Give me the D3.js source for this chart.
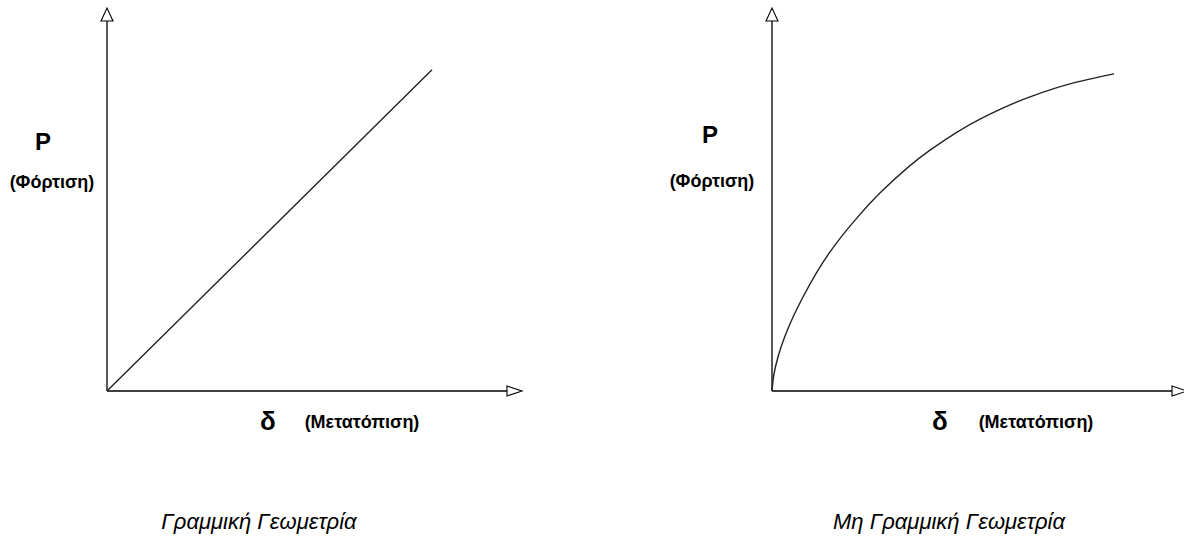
<!DOCTYPE html>
<html><head><meta charset="utf-8">
<script src="https://cdn.jsdelivr.net/npm/d3@7"></script>
<style>body{margin:0;background:#fff}svg{display:block}text{font-family:"Liberation Sans",Arial,sans-serif}</style>
</head><body><svg id="c" width="1184" height="537"></svg>
<script>
// Data (abstract units δ, P)
const linearDelta = [0, 8.125];
const linearLoad  = [0, 8.68];
const nonlinearDelta = [0, 0.05, 0.15, 0.375, 0.775, 1.45, 2.125, 2.775, 3.95, 5.2, 6.45, 7.45, 8.55];
const nonlinearLoad  = [0, 0.46, 0.92, 1.62, 2.54, 3.76, 4.68, 5.43, 6.51, 7.35, 7.95, 8.30, 8.57];
const titles = ["Γραμμική Γεωμετρία", "Μη Γραμμική Γεωμετρία"];
const yLabel = "P", yLabelSub = "(Φόρτιση)";
const xLabel = "δ", xLabelSub = "(Μετατόπιση)";

const svg = d3.select("#c");
const panels = [
  {ox:107, delta:linearDelta, load:linearLoad, curve:d3.curveLinear, title:titles[0], tx:259,
   px:43, py:150, psx:52, psy:188, dx:268, dsx:362},
  {ox:772, delta:nonlinearDelta, load:nonlinearLoad, curve:d3.curveMonotoneY, title:titles[1], tx:949,
   px:710, py:143, psx:712, psy:187, dx:940, dsx:1036}
];
const oy = 391;
panels.forEach(p=>{
  const x = d3.scaleLinear().domain([0,10]).range([p.ox, p.ox+400]);
  const y = d3.scaleLinear().domain([0,10]).range([oy, oy-370]);
  const g = svg.append("g");
  // axes
  g.append("line").attr("x1",x(0)).attr("y1",y(0)).attr("x2",x(0)).attr("y2",y(10)).attr("stroke","#000").attr("stroke-width",1.3);
  g.append("line").attr("x1",x(0)).attr("y1",y(0)).attr("x2",x(10)).attr("y2",y(0)).attr("stroke","#000").attr("stroke-width",1.3);
  // arrowheads
  g.append("path").attr("d",`M${x(0)-6},${y(10)} L${x(0)+6},${y(10)} L${x(0)},${y(10)-13} Z`).attr("fill","#fff").attr("stroke","#000").attr("stroke-width",1.1);
  g.append("path").attr("d",`M${x(10)},${y(0)-5} L${x(10)},${y(0)+5} L${x(10)+15},${y(0)} Z`).attr("fill","#fff").attr("stroke","#000").attr("stroke-width",1.1);
  // curve
  const pts = p.delta.map((d,i)=>[d,p.load[i]]);
  g.append("path").datum(pts).attr("d",d3.line().x(d=>x(d[0])).y(d=>y(d[1])).curve(p.curve))
    .attr("fill","none").attr("stroke","#222").attr("stroke-width",1.4);
  // labels
  g.append("text").attr("x",p.px).attr("y",p.py).attr("text-anchor","middle").attr("font-weight","bold").attr("font-size",24).text(yLabel);
  g.append("text").attr("x",p.psx).attr("y",p.psy).attr("text-anchor","middle").attr("font-weight","bold").attr("font-size",18).text(yLabelSub);
  g.append("text").attr("x",p.dx).attr("y",430).attr("text-anchor","middle").attr("font-weight","bold").attr("font-size",26).text(xLabel);
  g.append("text").attr("x",p.dsx).attr("y",428).attr("text-anchor","middle").attr("font-weight","bold").attr("font-size",18).text(xLabelSub);
  g.append("text").attr("x",p.tx).attr("y",529).attr("text-anchor","middle").attr("font-style","italic").attr("font-size",22).text(p.title);
});
</script></body></html>
